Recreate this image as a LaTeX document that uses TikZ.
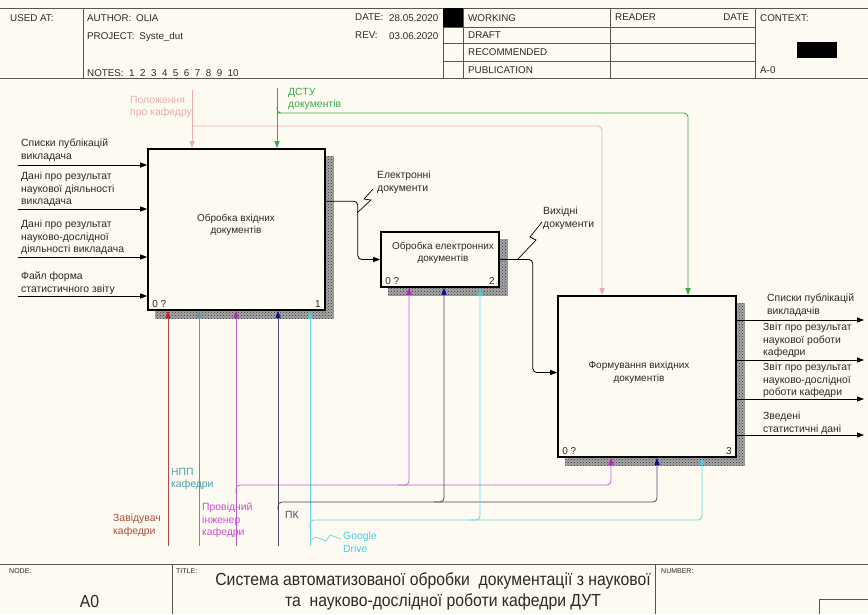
\documentclass[tikz,border=0pt]{standalone}
\usepackage{fontspec}
\setmainfont{Liberation Sans}
\newfontfamily\narrowfont[FakeStretch=0.9]{Liberation Sans}
\usetikzlibrary{arrows.meta,patterns,backgrounds}
\definecolor{paper}{HTML}{FDFAF1}
\definecolor{rule}{HTML}{555555}
\definecolor{inkc}{HTML}{2A2A2A}
\definecolor{pinkc}{HTML}{E6AEAE}
\definecolor{greenc}{HTML}{3DAA48}
\definecolor{redl}{HTML}{B04A4A}
\definecolor{redt}{HTML}{D81818}
\definecolor{redlabel}{HTML}{A8503A}
\definecolor{tealc}{HTML}{4C9EAA}
\definecolor{magl}{HTML}{C060D0}
\definecolor{magt}{HTML}{C020C8}
\definecolor{navyl}{HTML}{4A4A68}
\definecolor{navyt}{HTML}{101090}
\definecolor{cyanl}{HTML}{6AD6E0}
\definecolor{cyant}{HTML}{40D0E0}
\tikzset{
  rulestyle/.style={draw=rule, line width=0.9pt},
  hdr/.style={anchor=north west, inner sep=0, text=inkc, font=\fontsize{9.8}{11}\selectfont},
  tinytext/.style={anchor=north west, inner sep=0, text=inkc, font=\fontsize{7}{8}\selectfont},
  lbl/.style={anchor=north west, inner sep=0, align=left, text=inkc, font=\fontsize{10.4}{12.5}\selectfont},
  func/.style={draw=black, line width=1.6pt, fill=paper, inner sep=0},
  ftext/.style={inner sep=0, align=center, text=inkc, font=\fontsize{10}{12.5}\selectfont},
  corner/.style={inner sep=0, text=inkc, font=\fontsize{10}{11}\selectfont},
  shadebase/.style={fill=black!35},
  shade/.style={pattern=crosshatch dots, pattern color=black!80},
  tip/.style={-{Triangle[length=7pt,width=5pt,#1]}},
  tip/.default={},
  flow/.style={line width=0.8pt},
  leader/.style={line width=0.7pt},
}
\newcommand{\gap}{\hspace{5.5pt}}
\begin{document}
\begin{tikzpicture}[x=1pt,y=-1pt]
\useasboundingbox (0,0) rectangle (868,614);

% ---------- header frame ----------
\draw[rulestyle] (0,8) -- (868,8) (0,78) -- (868,78);
\draw[rulestyle] (83,8) -- (83,78) (443,8) -- (443,78) (463,8) -- (463,78)
                 (610,8) -- (610,78) (755,8) -- (755,78);
\draw[rulestyle] (443,27) -- (755,27) (443,43) -- (755,43) (443,61) -- (755,61);
\fill[black] (443,8) rectangle (463,27);
\fill[black] (797,42) rectangle (837,58);

\node[hdr] (usedat) at (10,14) {USED AT:};
\node[hdr] (author) at (87,14) {AUTHOR:\enspace OLIA};
\node[hdr] (project) at (87,32) {PROJECT:\enspace Syste\_dut};
\node[hdr] (notes) at (87,69) {NOTES:\gap 1\gap 2\gap 3\gap 4\gap 5\gap 6\gap 7\gap 8\gap 9\gap 10};
\node[hdr] (datek) at (355,14) {DATE:};
\node[hdr] (datev) at (389,14) {28.05.2020};
\node[hdr] (revk) at (355,32) {REV:};
\node[hdr] (revv) at (389,32) {03.06.2020};
\node[hdr] (working) at (468,14) {WORKING};
\node[hdr] (draft) at (468,32) {DRAFT};
\node[hdr] (recomm) at (468,48) {RECOMMENDED};
\node[hdr] (public) at (468,66) {PUBLICATION};
\node[hdr] (reader) at (615,14) {READER};
\node[hdr, anchor=north east] (rdate) at (749,14) {DATE};
\node[hdr] (context) at (760,14) {CONTEXT:};
\node[hdr] (aminus) at (760,66) {A-0};

% ---------- footer frame ----------
\draw[rulestyle] (0,564) -- (868,564) (172,564) -- (172,614) (655,564) -- (655,614);
\draw[rulestyle] (819,614) |- (868,599);
\node[tinytext] (nodek) at (9,568) {NODE:};
\node[tinytext] (titlek) at (176,568) {TITLE:};
\node[tinytext] (numberk) at (661,568) {NUMBER:};
\node[inner sep=0, anchor=base, text=inkc, font=\narrowfont\fontsize{17.5}{20}\selectfont] (nodev) at (89.5,607) {A0};
\node[inner sep=0, anchor=base, text=inkc, font=\narrowfont\fontsize{17.5}{21}\selectfont] (title1) at (433,585)
  {Система автоматизованої обробки\ \ документації з наукової};
\node[inner sep=0, anchor=base, text=inkc, font=\narrowfont\fontsize{17.5}{21}\selectfont] (title2) at (443,606)
  {та\ \ науково-дослідної роботи кафедри ДУТ};

% ---------- activity boxes ----------
\node[func, minimum width=177pt, minimum height=161pt] (b1) at (236.5,229.5) {};
\node[func, minimum width=118pt, minimum height=55pt] (b2) at (440,259.5) {};
\node[func, minimum width=178pt, minimum height=161pt] (b3) at (647,376.5) {};

\begin{scope}[on background layer]
  \fill[paper] (0,0) rectangle (868,614);
  \foreach \b in {b1,b2,b3}{
    \fill[shadebase] ([shift={(8pt,-8pt)}]\b.south west) rectangle ([shift={(8pt,-8pt)}]\b.north east);
    \fill[shade] ([shift={(8pt,-8pt)}]\b.south west) rectangle ([shift={(8pt,-8pt)}]\b.north east);
  }
\end{scope}

\node[ftext] (b1t) at (236,225) {Обробка вхідних\\документів};
\node[ftext] (b2t) at (443,253) {Обробка електронних\\документів};
\node[ftext] (b3t) at (639,372.5) {Формування вихідних\\документів};
\node[corner, anchor=south west] (b1z) at ([shift={(5pt,3pt)}]b1.south west) {0 ?};
\node[corner, anchor=south east] (b1n) at ([shift={(-5pt,3pt)}]b1.south east) {1};
\node[corner, anchor=south west] (b2z) at ([shift={(5pt,3pt)}]b2.south west) {0 ?};
\node[corner, anchor=south east] (b2n) at ([shift={(-5pt,3pt)}]b2.south east) {2};
\node[corner, anchor=south west] (b3z) at ([shift={(5pt,3pt)}]b3.south west) {0 ?};
\node[corner, anchor=south east] (b3n) at ([shift={(-5pt,3pt)}]b3.south east) {3};

% ---------- inputs ----------
\coordinate (i1) at (18,165);
\coordinate (i2) at (18,209);
\coordinate (i3) at (18,257);
\coordinate (i4) at (18,296);
\foreach \i in {i1,i2,i3,i4}
  \draw[flow, tip] (\i) -- (\i -| b1.west);
\node[lbl] (li1) at (21,139) {Списки публікацій\\викладача};
\node[lbl] (li2) at (21,172) {Дані про результат\\наукової діяльності\\викладача};
\node[lbl] (li3) at (21,220) {Дані про результат\\науково-дослідної\\діяльності викладача};
\node[lbl] (li4) at (21,272) {Файл форма\\статистичного звіту};

% ---------- flows between activities ----------
\draw[flow, tip, rounded corners=4pt] ([yshift=-53pt]b1.north east) -- ++(32,0) |- (b2.west);
\draw[flow, tip, rounded corners=4pt] (b2.east) -- ++(33,0) |- ([yshift=4pt]b3.west);
\node[lbl] (le) at (377,171) {Електронні\\документи};
\node[lbl] (lv) at (543,207) {Вихідні\\документи};
\draw[leader] (373,189) -- (364,199) -- (371,200) -- (357,213);
\draw[leader] (542,222) -- (530,237) -- (536,240) -- (518,259);

% ---------- outputs ----------
\coordinate (o1) at (864,320);
\coordinate (o2) at (864,360);
\coordinate (o3) at (864,399);
\coordinate (o4) at (864,435);
\foreach \o in {o1,o2,o3,o4}
  \draw[flow, tip] (\o -| b3.east) -- (\o);
\node[lbl] (lo1) at (767,294) {Списки публікацій\\викладачів};
\node[lbl] (lo2) at (763,323) {Звіт про результат\\наукової роботи\\кафедри};
\node[lbl] (lo3) at (763,363) {Звіт про результат\\науково-дослідної\\роботи кафедри};
\node[lbl] (lo4) at (763,412) {Зведені\\статистичні дані};

% ---------- controls ----------
\coordinate (cp) at (192,90);
\coordinate (cpb) at (192,126);
\draw[flow, pinkc, tip] (cp) -- (cp |- b1.north);
\draw[flow, pinkc, tip, rounded corners=4pt] (cpb) -| ([xshift=-45pt]b3.north);
\node[lbl, text=pinkc] (lcp) at (130,96) {Положення\\про кафедру};

\coordinate (cg) at (277,88);
\coordinate (cgb) at (277,107);
\draw[flow, greenc, tip] (cg) -- (cg |- b1.north);
\draw[flow, greenc, tip, rounded corners=4pt] (cgb) |- (282,113) -| ([xshift=41pt]b3.north);
\node[lbl, text=greenc] (lcg) at (288,88) {ДСТУ\\документів};

% ---------- mechanisms ----------
\coordinate (m1) at (168,546);
\coordinate (m2) at (199,546);
\coordinate (m3) at (236,546);
\coordinate (m4) at (278,546);
\coordinate (m5) at (310,546);
\draw[flow, redl, tip={color=redt}] (m1) -- (m1 |- b1.south);
\draw[flow, tealc, tip] (m2) -- (m2 |- b1.south);
\draw[flow, magl, tip={color=magt}] (m3) -- (m3 |- b1.south);
\draw[flow, navyl, tip={color=navyt}] (m4) -- (m4 |- b1.south);
\draw[flow, cyanl, tip={color=cyant}] (m5) -- (m5 |- b1.south);

\coordinate (mb3) at (236,493);
\coordinate (mb4) at (278,510);
\coordinate (mb5) at (310,528);
\draw[flow, magl, tip={color=magt}, rounded corners=4pt] (mb3) |- (611,485) -- ([xshift=-36pt]b3.south);
\draw[flow, magl, tip={color=magt}, rounded corners=4pt] (398,485) -| ([xshift=-31pt]b2.south);
\draw[flow, navyl, tip={color=navyt}, rounded corners=4pt] (mb4) |- (657,502) -- ([xshift=10pt]b3.south);
\draw[flow, navyl, tip={color=navyt}, rounded corners=4pt] (434,502) -| ([xshift=4pt]b2.south);
\draw[flow, cyanl, tip={color=cyant}, rounded corners=4pt] (mb5) |- (702,520) -- ([xshift=55pt]b3.south);
\draw[flow, cyanl, tip={color=cyant}, rounded corners=4pt] (470,520) -| ([xshift=40pt]b2.south);

\node[lbl, text=redlabel] (lm1) at (113,514) {Завідувач\\кафедри};
\node[lbl, text=tealc] (lm2) at (171,468) {НПП\\кафедри};
\node[lbl, text=magt!80] (lm3) at (202,503) {Провідний\\інженер\\кафедри};
\node[lbl, text=navyl] (lm4) at (285,511) {ПК};
\node[lbl, text=cyant] (lm5) at (343,532) {Google\\Drive};
\draw[leader, cyanl] (341,539) -- (330,535) -- (326,541) -- (316,537) -- (311,540);
\end{tikzpicture}
\end{document}
